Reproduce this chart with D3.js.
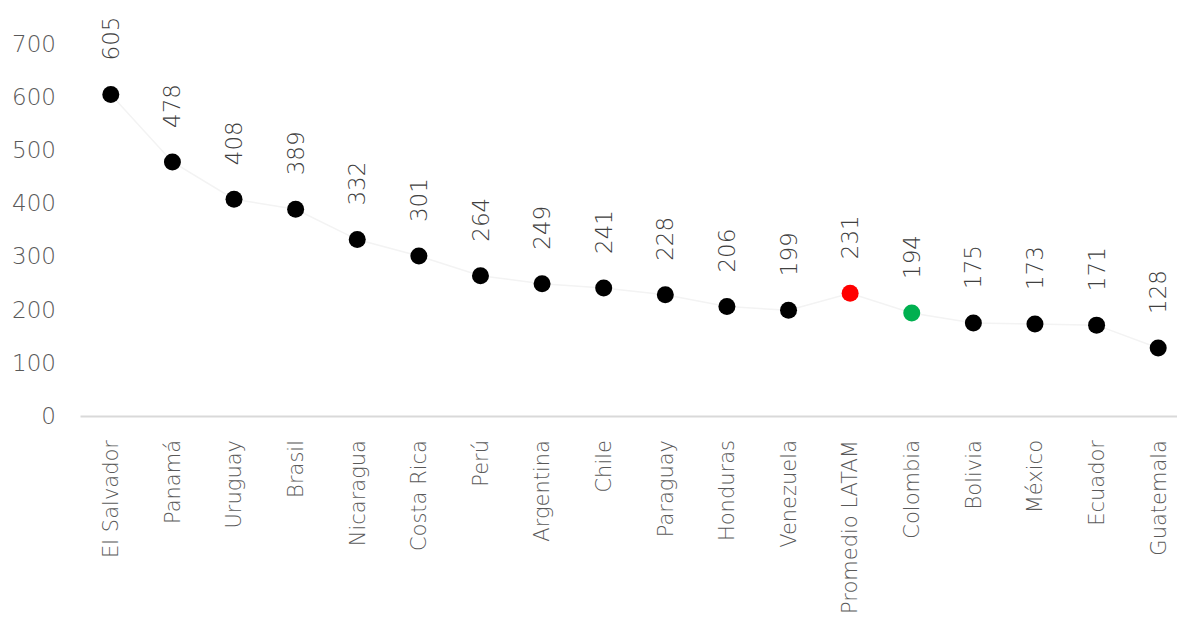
<!DOCTYPE html>
<html><head><meta charset="utf-8">
<script src="https://cdn.jsdelivr.net/npm/d3@7"></script>
<style>body{margin:0;background:#fff}svg{display:block}</style>
</head><body>
<script>
const categories = ["El Salvador","Panamá","Uruguay","Brasil","Nicaragua","Costa Rica","Perú","Argentina","Chile","Paraguay","Honduras","Venezuela","Promedio LATAM","Colombia","Bolivia","México","Ecuador","Guatemala"];
const values = [605,478,408,389,332,301,264,249,241,228,206,199,231,194,175,173,171,128];
const yTicks = [0,100,200,300,400,500,600,700];
const highlight = {"Promedio LATAM":"#ff0000","Colombia":"#00b050"};

const W=1177,H=626;
const svg=d3.select("body").append("svg").attr("width",W).attr("height",H);
const font="'DejaVu Sans', sans-serif";
const x=d3.scaleBand().domain(categories).range([80,1189]);
const y=d3.scaleLinear().domain([0,700]).range([416,44]);
const data=categories.map((c,i)=>({c,v:values[i]}));

// y axis labels
const yAxis=d3.axisLeft(y).tickValues(yTicks).tickSize(0).tickPadding(0);
const ga=svg.append("g").attr("transform","translate(56,0)").call(yAxis);
ga.select(".domain").remove();
ga.selectAll("text").attr("font-family",font).attr("font-weight",200).attr("font-size",23).attr("fill","#595959");

// baseline
const gx=svg.append("g").attr("transform","translate(0,416)").call(d3.axisBottom(x).tickSize(0).tickPadding(0));
gx.select(".domain").attr("stroke","#d9d9d9").attr("stroke-width",2);
gx.selectAll("text").attr("font-family",font).attr("font-weight",200).attr("font-size",21).attr("fill","#595959")
  .attr("transform","rotate(-90)").attr("text-anchor","end").attr("dy","0.35em").attr("x",-24).attr("y",0);

// faint line
svg.append("path").datum(data).attr("fill","none").attr("stroke","#f3f3f3").attr("stroke-width",1.5)
  .attr("d",d3.line().x(d=>x(d.c)+x.bandwidth()/2).y(d=>y(d.v)));

// dots
svg.selectAll("circle.dot").data(data).join("circle").attr("class","dot")
  .attr("cx",d=>x(d.c)+x.bandwidth()/2).attr("cy",d=>y(d.v)).attr("r",8.5)
  .attr("fill",d=>highlight[d.c]||"#000");

// value labels
svg.selectAll("text.val").data(data).join("text").attr("class","val")
  .attr("transform",d=>`translate(${x(d.c)+x.bandwidth()/2},${y(d.v)-34}) rotate(-90)`)
  .attr("dy","0.35em").attr("text-anchor","start")
  .attr("font-family",font).attr("font-weight",200).attr("font-size",23).attr("fill","#404040")
  .text(d=>d.v);
</script>
</body></html>
